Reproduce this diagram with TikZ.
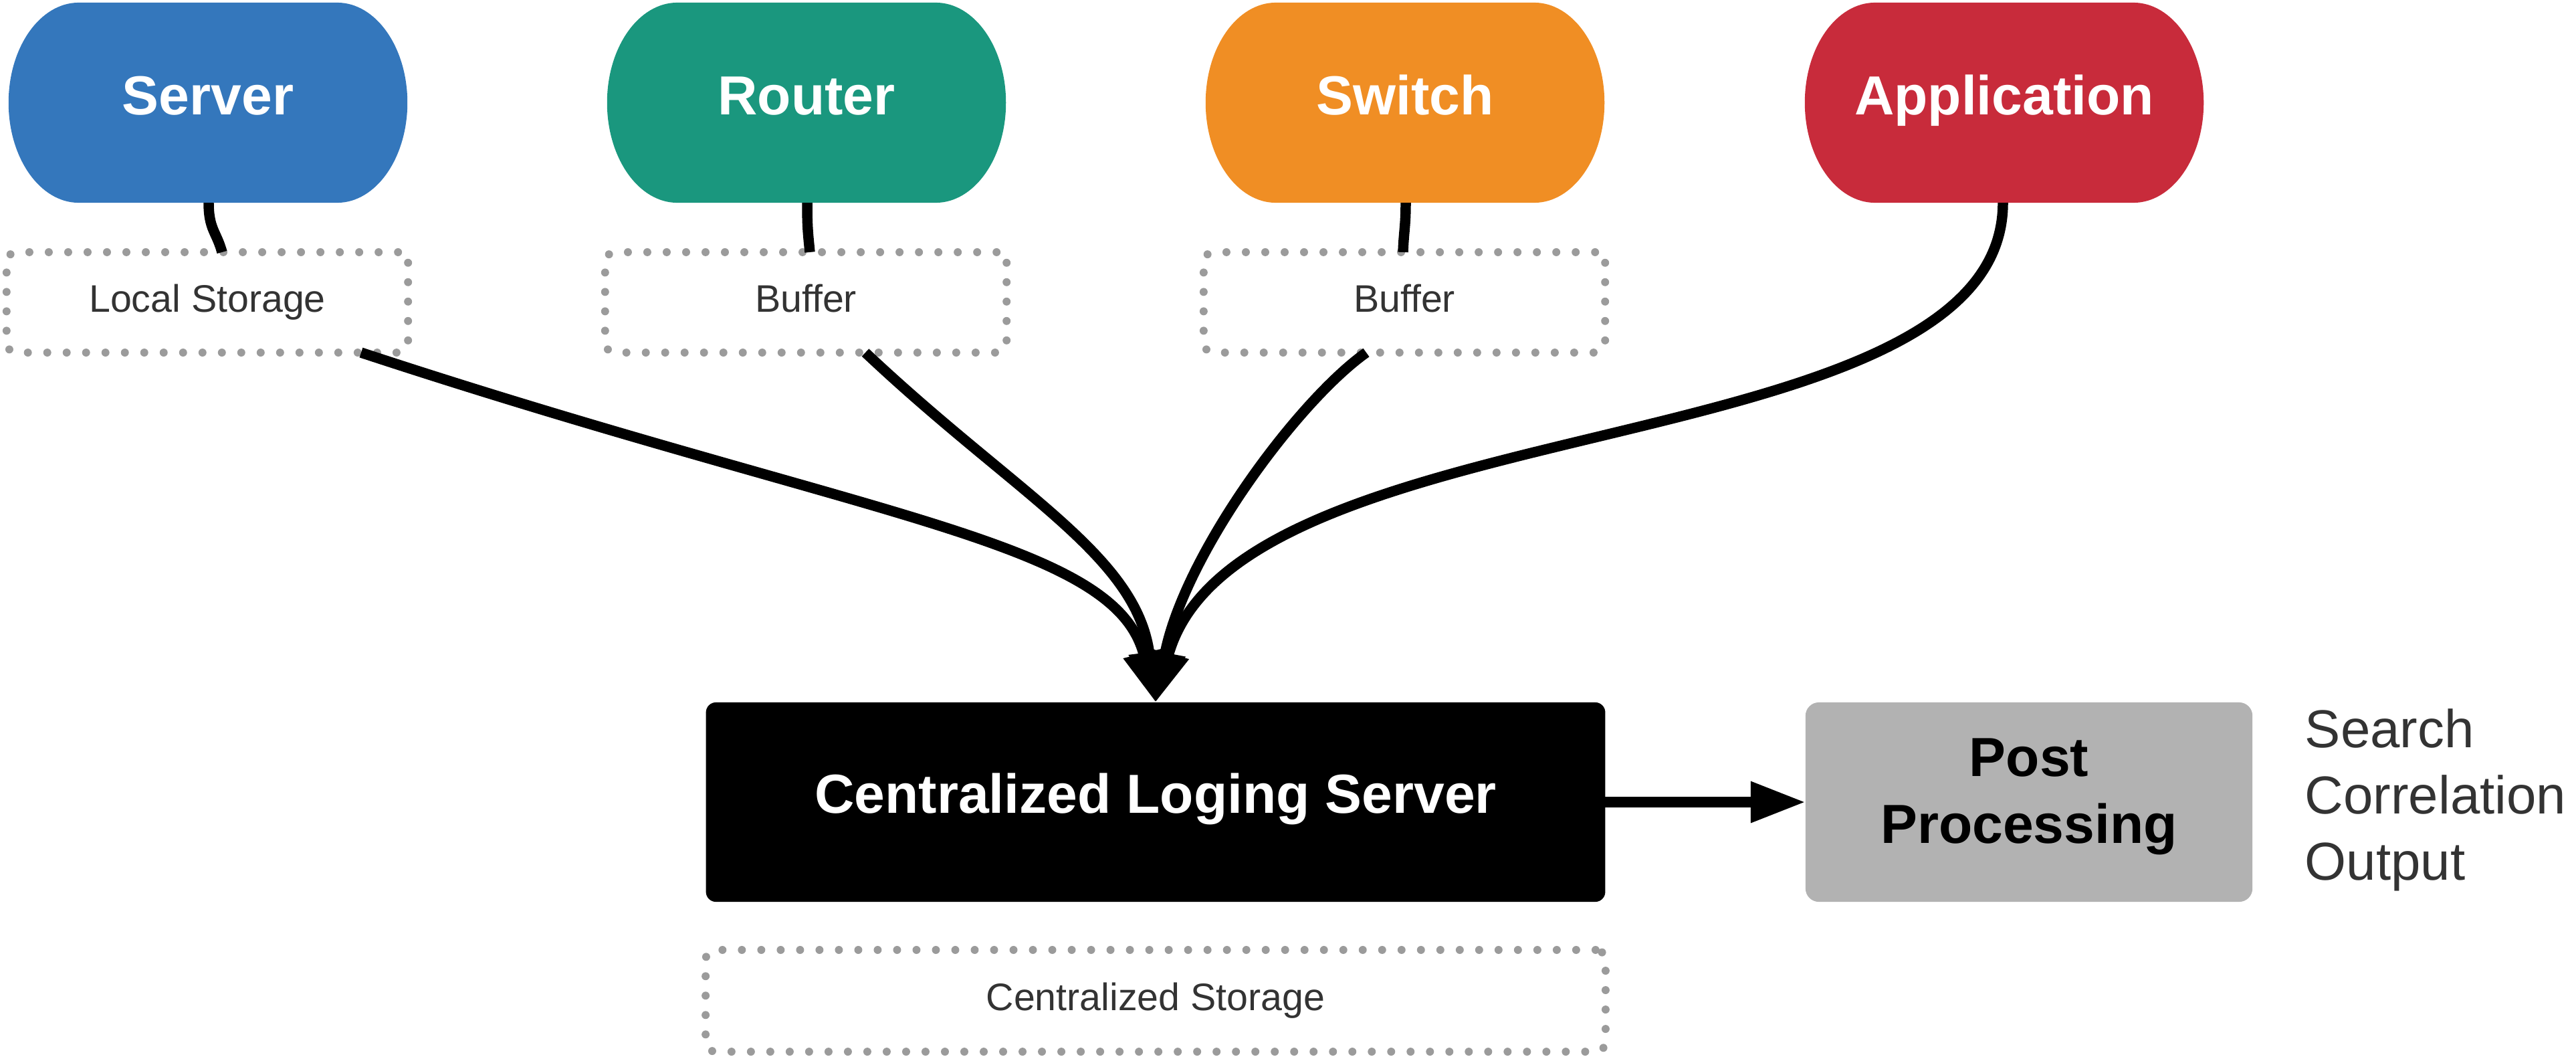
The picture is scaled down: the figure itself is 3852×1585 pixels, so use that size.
\documentclass[tikz,border=0pt]{standalone}
\usepackage{fontspec}
\setmainfont{Liberation Sans}
\usetikzlibrary{arrows.meta,calc,backgrounds}
\definecolor{cServer}{HTML}{3477BC}
\definecolor{cRouter}{HTML}{1A977E}
\definecolor{cSwitch}{HTML}{F08E24}
\definecolor{cApp}{HTML}{C82B3B}
\definecolor{cPost}{HTML}{B2B2B2}
\definecolor{cDot}{HTML}{9B9B9B}
\definecolor{cText}{HTML}{333333}
\newcommand\myBold{\fontsize{23.4}{28.4}\selectfont\bfseries}
\newcommand\myLabel{\fontsize{16.3}{19.6}\selectfont}
\newcommand\mySide{\fontsize{22.7}{28.2}\selectfont}
% elliptical-corner pill behind a node
\newcommand\pillfill[2]{%
  \begin{pgfonlayer}{background}
  \fill[#2] ($(#1.north east)+(-105,0)$)
    arc[start angle=90,end angle=-90,x radius=1.05cm,y radius=1.495cm]
    -- ($(#1.south west)+(105,0)$)
    arc[start angle=270,end angle=90,x radius=1.05cm,y radius=1.495cm]
    -- cycle;
  \end{pgfonlayer}}
\begin{document}
\begin{tikzpicture}[x=0.01cm,y=-0.01cm,
  src/.style={rectangle, minimum width=5.96cm,
    minimum height=2.99cm, inner sep=0pt, outer sep=0pt, text=white,
    font=\myBold, text height=17pt, text depth=7pt},
  dotbox/.style={rectangle, rounded corners=0.15cm, draw=cDot, line width=3.4pt,
    dash pattern=on 0pt off 8.25pt, line cap=round, minimum width=6cm,
    minimum height=1.5cm, inner sep=0pt, outer sep=0pt, text=cText,
    font=\myLabel, text height=11.9pt, text depth=3.4pt},
  mainbox/.style={rectangle, rounded corners=0.15cm, fill=black, text=white,
    minimum width=13.44cm, minimum height=2.98cm, inner sep=0pt, outer sep=0pt,
    font=\myBold, text height=17pt, text depth=7.5pt},
  postbox/.style={rectangle, rounded corners=0.2cm, fill=cPost, text=black,
    minimum width=6.68cm, minimum height=2.98cm, inner sep=0pt, outer sep=0pt,
    font=\myBold, align=center, text depth=9.5pt},
  sidetext/.style={anchor=west, inner sep=0pt, align=left, text=cText, font=\mySide},
  conn/.style={line width=4.4pt, black},
  arr/.style={conn, -{Triangle[length=21.5pt,width=16.5pt]}},
  arr2/.style={conn, -{Triangle[length=23.3pt,width=16.5pt]}}
]
\useasboundingbox (0,0) rectangle (3852,1585);

% source nodes
\node[src] (server) at (311,153.5) {Server};
\node[src] (router) at (1206,153.5) {Router};
\node[src] (switch) at (2101,153.5) {Switch};
\node[src] (app)    at (2997,153.5) {Application};
\pillfill{server}{cServer}
\pillfill{router}{cRouter}
\pillfill{switch}{cSwitch}
\pillfill{app}{cApp}

% local storage / buffers
\node[dotbox] (lstore) at (310,452)  {Local Storage};
\node[dotbox] (buf1)   at (1205,452) {Buffer};
\node[dotbox] (buf2)   at (2100,452) {Buffer};

% central parts
\node[mainbox] (cls) at (1728,1199) {Centralized Loging Server};
\node[dotbox, minimum width=13.45cm, minimum height=1.52cm] (cstore) at (1728,1496) {Centralized Storage};
\node[postbox] (pp) at (3034,1199) {Post\\Processing};
\node[sidetext] (notes) at (3446,1196) {Search\\Correlation\\Output};

% short connectors
\draw[conn] ($(server.south)+(1,0)$) .. controls +(0,40) and +(-8,-30) .. ($(lstore.north)+(22,0)$);
\draw[conn] ($(router.south)+(1,0)$) .. controls +(0,35) and +(-3,-30) .. ($(buf1.north)+(6,0)$);
\draw[conn] ($(switch.south)+(1,0)$) .. controls +(0,35) and +(1,-30) .. ($(buf2.north)+(-2,0)$);

% curves into the central server
\draw[arr] ($(lstore.south)+(230,0)$) .. controls (1300,777) and (1668,807) .. (cls.north);
\draw[arr] ($(buf1.south)+(89,0)$) .. controls (1520,740) and (1700,830) .. (cls.north);
\draw[arr] ($(buf2.south)+(-57,0)$) .. controls (1940,600) and (1770,830) .. (cls.north);
\draw[arr] ($(app.south)+(-2,0)$) .. controls (2995,700) and (1850,600) .. (cls.north);

% to post processing
\draw[arr2] (cls.east) -- (pp.west);
\end{tikzpicture}
\end{document}
